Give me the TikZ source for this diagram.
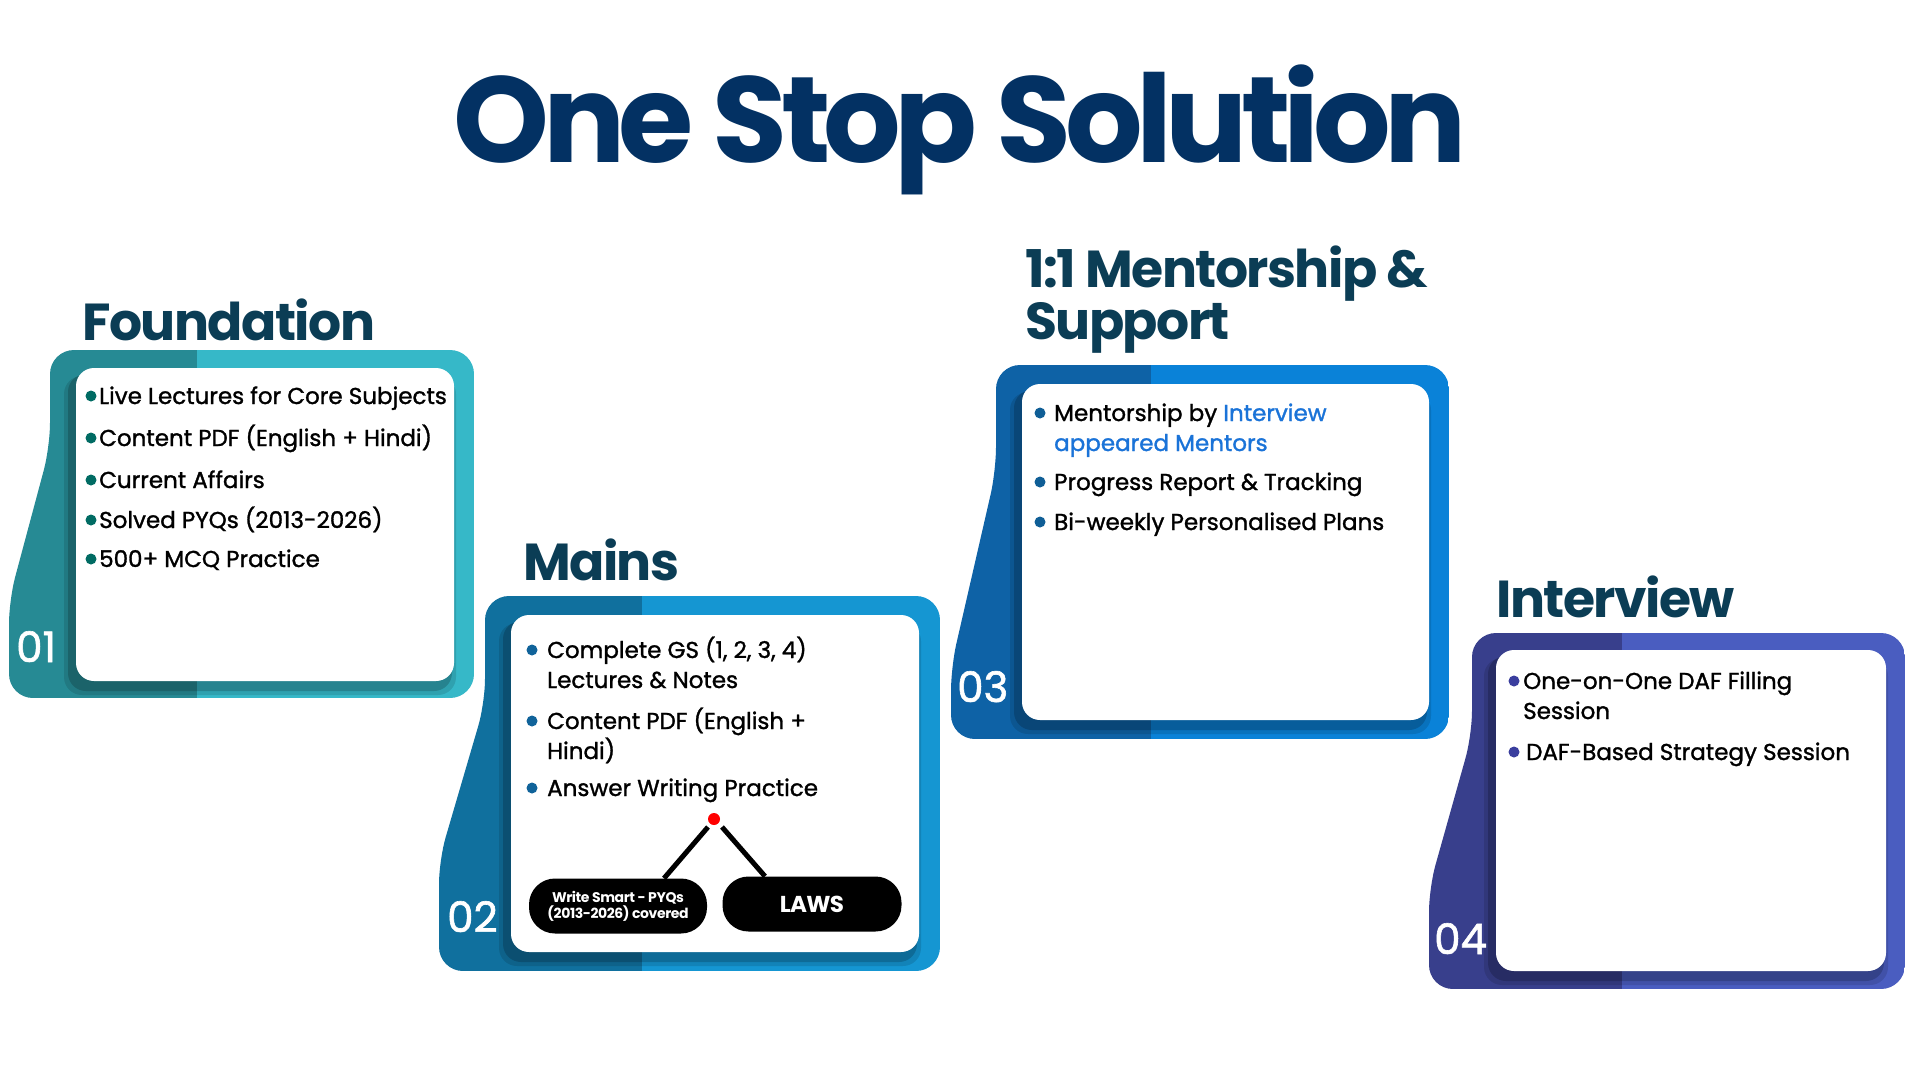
\documentclass[tikz,border=0pt]{standalone}
\usepackage{fontspec}
\setmainfont{Poppins}[FakeBold=1.3]
\newfontfamily\pbold{Poppins}[UprightFont=* Bold,LetterSpace=-3]
\newfontfamily\ptitle{Poppins}[UprightFont=* Bold,LetterSpace=-5.5]
\newfontfamily\pnum{Poppins}[FakeBold=1.5]
\usetikzlibrary{calc}
\definecolor{ttl}{HTML}{033163}
\definecolor{hd}{HTML}{0B3D55}
\definecolor{aD}{HTML}{268A94}\definecolor{aL}{HTML}{36B8C8}\definecolor{aB}{HTML}{006B63}
\definecolor{bD}{HTML}{10709E}\definecolor{bL}{HTML}{1596D2}\definecolor{bB}{HTML}{10639A}
\definecolor{cD}{HTML}{0E62A6}\definecolor{cL}{HTML}{0A82D8}\definecolor{cB}{HTML}{0F5E96}
\definecolor{dD}{HTML}{383F8C}\definecolor{dL}{HTML}{4A5DC0}\definecolor{dB}{HTML}{3A3E9E}
\definecolor{hl}{HTML}{1A73D8}
\tikzset{
 head/.style={anchor=base west,text=hd,font=\pbold\fontsize{52}{56}\selectfont,inner sep=0},
 item/.style={anchor=base west,font=\fontsize{23}{30}\selectfont,inner sep=0},
 num/.style={anchor=base west,text=white,font=\pnum\fontsize{42}{44}\selectfont,inner sep=0},
 white card/.style={fill=white,rounded corners=18pt},
 pill/.style={fill=black,rounded corners=26pt,text=white,align=center,inner sep=0},
}
\newcommand{\myframe}[9]{%
 \begin{scope}
 \clip[rounded corners=24pt] (#1,#2) -- (#3,#2) -- (#3,#4) -- (#5,#4) -- (#5,#7) -- (#1,#6) -- cycle;
 \fill[#9D] (#5,#2) rectangle (#8,#4);
 \fill[#9L] (#8,#2) rectangle (#3,#4);
 \end{scope}}
\newcommand{\mycard}[4]{%
 \fill[black,opacity=0.18,rounded corners=18pt] (#1-8,#2+6) rectangle (#3-2,#4+10);
 \fill[black,opacity=0.12,rounded corners=18pt] (#1-12,#2+8) rectangle (#3+2,#4+14);
 \fill[white card] (#1,#2) rectangle (#3,#4);}
\newcommand{\bul}[3]{\fill[#1] (#2,#3-8) circle (5.5pt);}
\begin{document}
\begin{tikzpicture}[x=1pt,y=-1pt]
\useasboundingbox (0,0) rectangle (1920,1080);
\fill[white] (0,0) rectangle (1920,1080);
\node[anchor=base,text=ttl,font=\ptitle\fontsize{122}{126}\selectfont,inner sep=0] (title) at (960,162) {One Stop Solution};

% Card 1
\node[head] (h1) at (82,340) {Foundation};
\myframe{50}{350}{474}{698}{9}{447}{600}{197}{a}
\mycard{76}{368}{454}{681}
\foreach \y/\t in {404/Live Lectures for Core Subjects,446/Content PDF (English + Hindi),488/Current Affairs,528/Solved PYQs (2013-2026),567/500+ MCQ Practice}{
 \bul{aB}{91}{\y}
 \node[item] at (99,\y) {\t};}
\node[num] (n1) at (16,662) {01};

% Card 2
\node[head] (h2) at (523,580) {Mains};
\myframe{485}{596}{940}{971}{439}{703}{860}{642}{b}
\mycard{511}{615}{919}{952}
\bul{bB}{532}{658}\node[item] at (547,658) {Complete GS (1, 2, 3, 4)};
\node[item] at (547,688) {Lectures \& Notes};
\bul{bB}{532}{729}\node[item] at (547,729) {Content PDF (English +};
\node[item] at (547,759) {Hindi)};
\bul{bB}{532}{796}\node[item] at (547,796) {Answer Writing Practice};
\node[pill,minimum width=178pt,minimum height=55pt,font=\pbold\fontsize{14}{16}\selectfont] (p1) at (618,906) {Write Smart - PYQs\\(2013-2026) covered};
\node[pill,minimum width=179pt,minimum height=55pt,font=\pbold\fontsize{23}{26}\selectfont] (p2) at (812,904) {LAWS};
\coordinate (rd) at (714,819);
\draw[line width=5pt] ($(rd)+(-6,8)$) -- ($(p1.north)+(46,0)$);
\draw[line width=5pt] ($(rd)+(8,8)$) -- ($(p2.north)+(-47,0)$);
\fill[red] (rd) circle (6pt);
\node[num] (n2) at (447,932) {02};

% Card 3
\node[head] (h3) at (1025,287) {1:1 Mentorship \&};
\node[head] (h3b) at (1025,339) {Support};
\myframe{996}{365}{1449}{739}{951}{471}{667}{1151}{c}
\mycard{1022}{384}{1429}{720}
\bul{cB}{1040}{421}\node[item] at (1054,421) {Mentorship by \textcolor{hl}{Interview}};
\node[item,text=hl] at (1054,451) {appeared Mentors};
\bul{cB}{1040}{490}\node[item] at (1054,490) {Progress Report \& Tracking};
\bul{cB}{1040}{530}\node[item] at (1054,530) {Bi-weekly Personalised Plans};
\node[num] (n3) at (957,702) {03};

% Card 4
\node[head] (h4) at (1496,617) {Interview};
\myframe{1472}{633}{1905}{989}{1429}{735}{888}{1622}{d}
\mycard{1496}{650}{1886}{971}
\bul{dB}{1514}{689}\node[item] at (1523,689) {One-on-One DAF Filling};
\node[item] at (1523,719) {Session};
\bul{dB}{1514}{760}\node[item] at (1526,760) {DAF-Based Strategy Session};
\node[num] (n4) at (1434,954) {04};
\end{tikzpicture}
\end{document}
